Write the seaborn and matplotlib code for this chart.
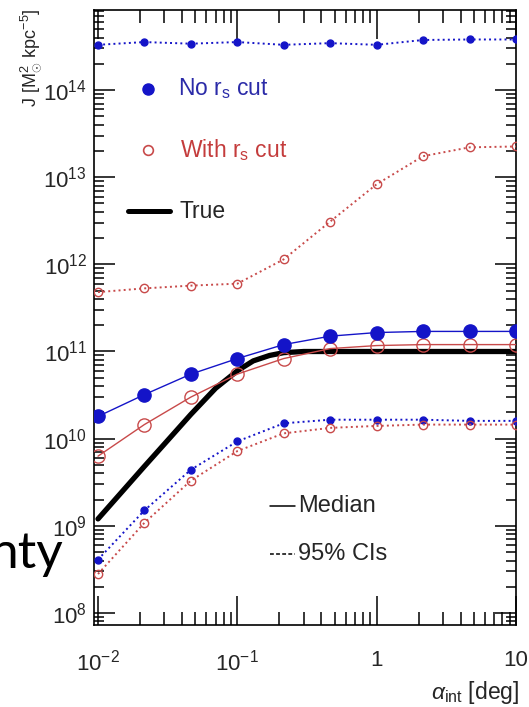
import numpy as np
import pandas as pd
import matplotlib
matplotlib.use("Agg")
import matplotlib.pyplot as plt
from matplotlib.ticker import LogLocator, FixedLocator, FixedFormatter, NullFormatter
import seaborn as sns

# --- data -----------------------------------------------------------------
alpha = [0.01, 0.0215, 0.0464, 0.1, 0.215, 0.464, 1.0, 2.15, 4.64, 10.0]

nocut_median = [1.8e10, 3.2e10, 5.5e10, 8.3e10, 1.2e11, 1.5e11, 1.65e11, 1.7e11, 1.7e11, 1.7e11]
nocut_hi = [3.3e14, 3.55e14, 3.4e14, 3.55e14, 3.3e14, 3.45e14, 3.3e14, 3.75e14, 3.8e14, 3.8e14]
nocut_lo = [4.1e8, 1.5e9, 4.4e9, 9.3e9, 1.5e10, 1.65e10, 1.65e10, 1.65e10, 1.6e10, 1.6e10]

cut_median = [6.3e9, 1.45e10, 3.0e10, 5.5e10, 8.3e10, 1.08e11, 1.17e11, 1.2e11, 1.2e11, 1.2e11]
cut_hi = [4.8e11, 5.3e11, 5.7e11, 6.0e11, 1.14e12, 3.1e12, 8.3e12, 1.74e13, 2.2e13, 2.25e13]
cut_lo = [2.8e8, 1.08e9, 3.3e9, 7.2e9, 1.15e10, 1.33e10, 1.4e10, 1.45e10, 1.45e10, 1.45e10]

true_alpha = [0.01, 0.015, 0.0215, 0.03, 0.0464, 0.07, 0.1, 0.13, 0.17, 0.215, 0.3, 1.0, 10.0]
true_J = [1.2e9, 2.5e9, 4.8e9, 8.7e9, 1.9e10, 3.8e10, 6.0e10, 7.8e10, 9.0e10, 9.7e10, 1.0e11, 1.0e11, 1.0e11]

x_ticks = [0.01, 0.1, 1, 10]
x_ticklabels = [r"$10^{-2}$", r"$10^{-1}$", "1", "10"]
y_ticks = [1e8, 1e9, 1e10, 1e11, 1e12, 1e13, 1e14]
y_ticklabels = [r"$10^{%d}$" % e for e in range(8, 15)]

# --- style ----------------------------------------------------------------
sns.set_theme(style="ticks")
plt.rcParams["font.family"] = ["Liberation Sans", "DejaVu Sans"]
plt.rcParams["mathtext.fontset"] = "custom"
plt.rcParams["mathtext.rm"] = "Liberation Sans"
plt.rcParams["mathtext.it"] = "Liberation Sans:italic"
plt.rcParams["mathtext.bf"] = "Liberation Sans:bold"

BLUE = "#1414c8"
RED = "#c84a4a"
TXT = "#262626"

W, H = 529, 707
fig = plt.figure(figsize=(W / 100, H / 100), dpi=100)
fig.patch.set_facecolor("white")
ax = fig.add_axes([94 / W, 1 - 625 / H, (516 - 94) / W, (625 - 10) / H])

df_true = pd.DataFrame({"alpha": true_alpha, "J": true_J})
sns.lineplot(data=df_true, x="alpha", y="J", ax=ax, color="black", lw=3.8,
             estimator=None, sort=False, zorder=3)

def series(vals, color, ls, lw, ms, filled, z):
    d = pd.DataFrame({"alpha": alpha, "J": vals})
    sns.lineplot(data=d, x="alpha", y="J", ax=ax, color=color, linestyle=ls, lw=lw,
                 marker="o", markersize=ms,
                 markerfacecolor=color if filled else "none",
                 markeredgecolor=color, markeredgewidth=1.0,
                 estimator=None, sort=False, zorder=z)

series(nocut_hi, BLUE, ":", 1.4, 5, True, 4)
series(nocut_lo, BLUE, ":", 1.4, 5, True, 4)
series(cut_hi, RED, ":", 1.4, 6, False, 4)
series(cut_lo, RED, ":", 1.4, 6, False, 4)
series(cut_median, RED, "-", 1.0, 9.5, False, 5)
series(nocut_median, BLUE, "-", 1.0, 9.5, True, 6)

ax.set_xscale("log")
ax.set_yscale("log")
ax.set_xlim(0.00936, 10)
ax.set_ylim(7.28e7, 8.28e14)

ax.xaxis.set_major_locator(FixedLocator(x_ticks))
ax.xaxis.set_major_formatter(FixedFormatter(x_ticklabels))
ax.yaxis.set_major_locator(FixedLocator(y_ticks))
ax.yaxis.set_major_formatter(FixedFormatter(y_ticklabels))
ax.xaxis.set_minor_locator(LogLocator(base=10, subs=np.arange(2, 10), numticks=20))
ax.yaxis.set_minor_locator(LogLocator(base=10, subs=np.arange(2, 10), numticks=20))
ax.xaxis.set_minor_formatter(NullFormatter())
ax.yaxis.set_minor_formatter(NullFormatter())

ax.tick_params(which="both", direction="in", top=True, right=True, color="black", width=1.1)
ax.tick_params(axis="x", which="major", length=21, pad=18, labelsize=16, labelcolor=TXT)
ax.tick_params(axis="x", which="minor", length=9.5)
ax.tick_params(axis="y", which="major", length=15, pad=5, labelsize=16, labelcolor=TXT)
ax.tick_params(axis="y", which="minor", length=7)
for s in ax.spines.values():
    s.set_linewidth(1.2)
    s.set_color("black")
ax.set_xlabel("")
ax.set_ylabel("")

# axis titles
fig.text(31 / W, 1 - 9 / H, r"J [M$_{\odot}^{2}$ kpc$^{-5}$]", rotation=90,
         ha="center", va="top", fontsize=13, color=TXT)
fig.text(519 / W, 1 - 692 / H, r"$\alpha_{\rm int}$ [deg]", ha="right", va="center",
         fontsize=16.5, color=TXT)

# key entries
def ax_xy(px, py):
    return (px - 94) / 422, (625 - py) / 615

kx, ky = ax_xy(148, 89)
ax.plot([kx], [ky], "o", color=BLUE, ms=8, transform=ax.transAxes, clip_on=False)
tx, _ = ax_xy(178, 0)
ax.text(tx, ky, r"No r$_{\rm s}$ cut", transform=ax.transAxes, va="center", ha="left",
        fontsize=16.5, color="#2b2ba8")
kx, ky = ax_xy(148, 150)
ax.plot([kx], [ky], "o", mfc="none", mec=RED, mew=1.2, ms=7, transform=ax.transAxes)
tx, _ = ax_xy(180, 0)
ax.text(tx, ky, r"With r$_{\rm s}$ cut", transform=ax.transAxes, va="center", ha="left",
        fontsize=16.5, color="#c43c3c")
x0, ky = ax_xy(128, 211)
x1, _ = ax_xy(170, 211)
ax.plot([x0, x1], [ky, ky], color="black", lw=3.6, transform=ax.transAxes)
ax.text(tx, ky, "True", transform=ax.transAxes, va="center", ha="left",
        fontsize=16.5, color=TXT)

x0, ky = ax_xy(270, 506)
x1, _ = ax_xy(295, 506)
tx, _ = ax_xy(298, 0)
ax.plot([x0, x1], [ky, ky], color="black", lw=1.1, transform=ax.transAxes)
ax.text(tx, ky, "Median", transform=ax.transAxes, va="center", ha="left",
        fontsize=17, color=TXT)
_, ky = ax_xy(0, 554)
ax.plot([x0, x1], [ky, ky], color="black", lw=1.1, ls=(0, (2.5, 1.5)), transform=ax.transAxes)
ax.text(tx, ky, "95% CIs", transform=ax.transAxes, va="center", ha="left",
        fontsize=17, color=TXT)

# slide text behind the chart
fig.text(-11 / W, 1 - 568 / H, "nty", ha="left", va="baseline", fontsize=37,
         color="black", family=["Lato", "DejaVu Sans"])

fig.savefig("out.png", dpi=100, facecolor="white")
